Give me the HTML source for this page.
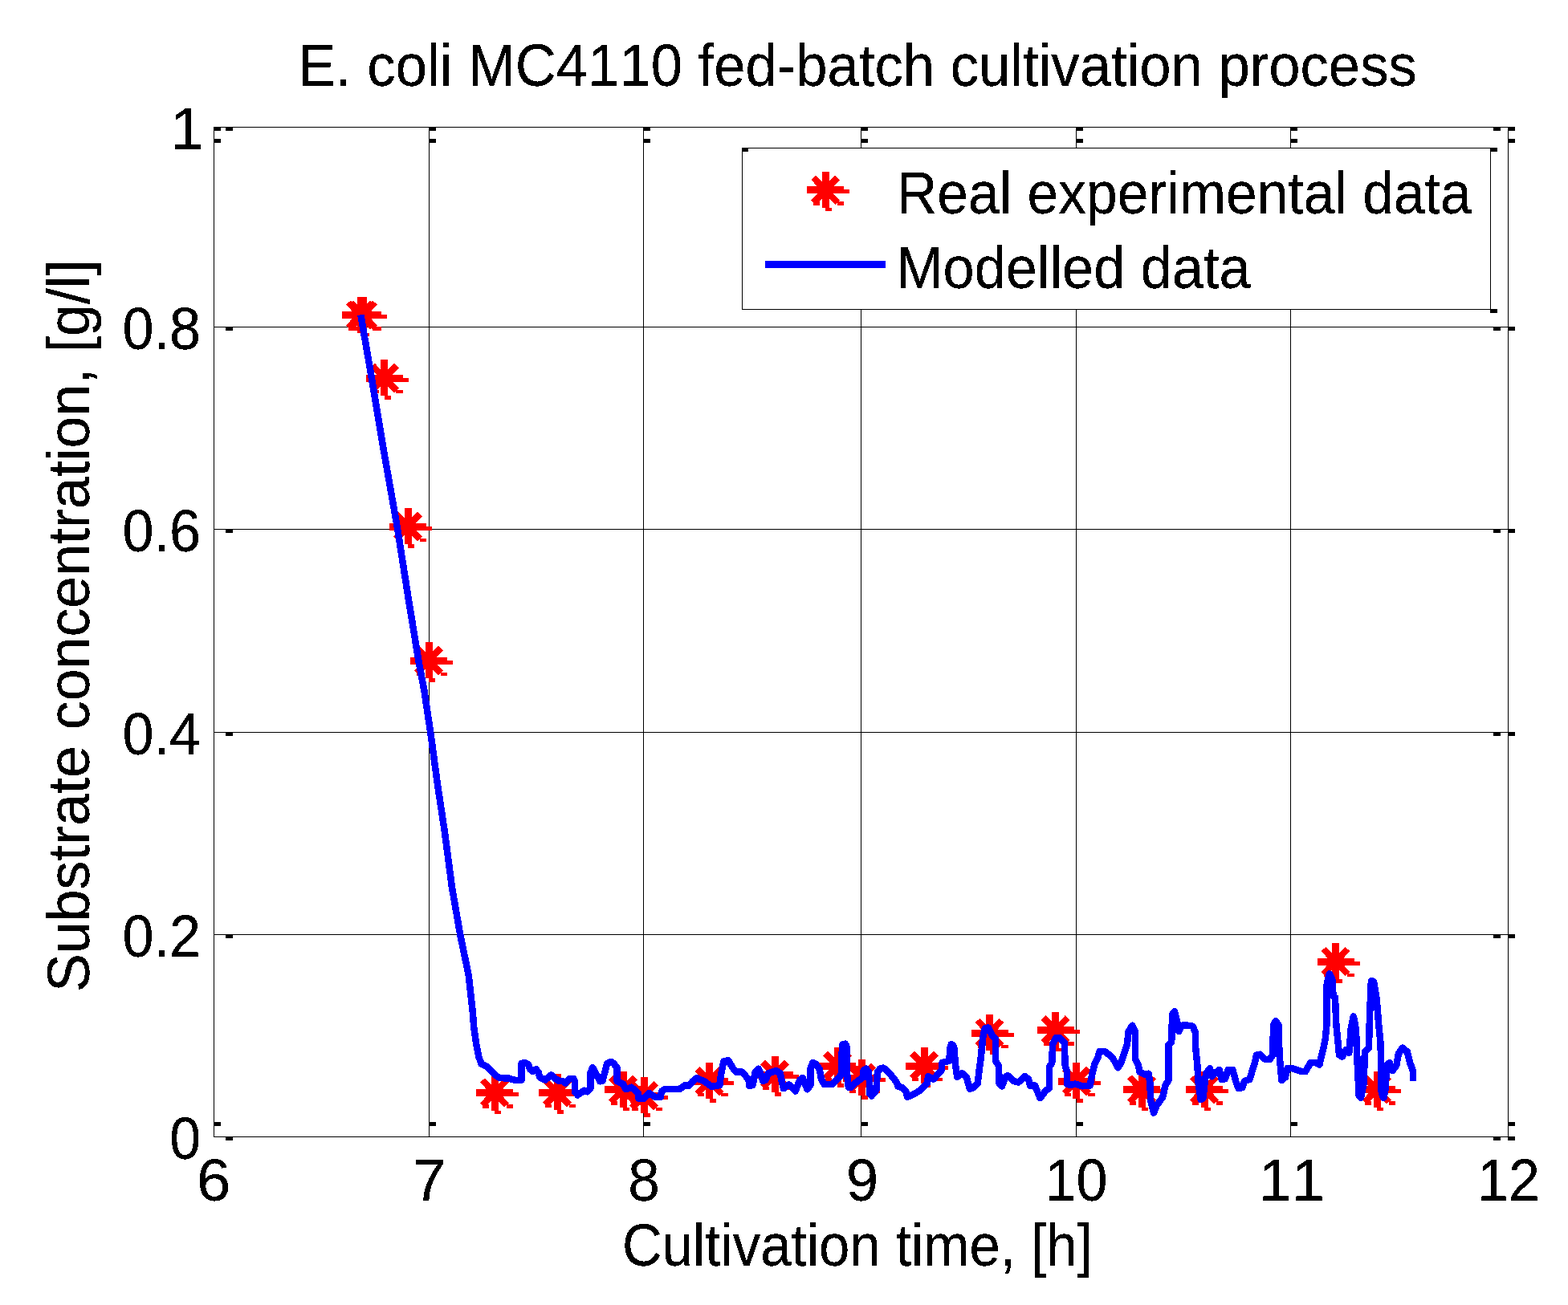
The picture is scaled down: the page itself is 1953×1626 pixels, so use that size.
<!DOCTYPE html><html><head><meta charset="utf-8"><title>E. coli MC4110 fed-batch cultivation process</title>
<style>html,body{margin:0;padding:0;background:#fff;overflow:hidden}svg{display:block}</style></head><body>
<svg width="1953" height="1626" viewBox="0 0 1953 1626" shape-rendering="crispEdges">
<defs><g id="mk" fill="#ff0000" shape-rendering="crispEdges"><rect x="-4.5" y="-23" width="9" height="45"/><rect x="-23" y="-4.5" width="46" height="9"/><rect x="23" y="-0.5" width="7" height="5"/><rect x="0" y="22" width="8" height="4.5"/><rect x="14.5" y="14.5" width="8.5" height="4.5"/><rect x="-15" y="14.5" width="8" height="4.5"/><path d="M-15,-15.5 L15,15.5 M15,-15.5 L-15,15.5" stroke="#ff0000" stroke-width="8.2" fill="none"/></g><filter id="bin" x="0" y="0" width="1" height="1" color-interpolation-filters="sRGB"><feComponentTransfer><feFuncA type="discrete" tableValues="0 1 1"/></feComponentTransfer></filter></defs>
<rect x="0" y="0" width="1953" height="1626" fill="#fff"/>
<g fill="#000"><rect x="534" y="158" width="1" height="1258"/><rect x="801" y="158" width="1" height="1258"/><rect x="1072" y="158" width="1" height="1258"/><rect x="1340" y="158" width="1" height="1258"/><rect x="1607" y="158" width="1" height="1258"/><rect x="266" y="407" width="1612" height="1"/><rect x="266" y="659" width="1612" height="1"/><rect x="266" y="912" width="1612" height="1"/><rect x="266" y="1164" width="1612" height="1"/></g>
<g fill="#000"><rect x="266" y="158" width="1613" height="1"/><rect x="266" y="1416" width="1613" height="1"/><rect x="266" y="158" width="1" height="1259"/><rect x="1878" y="158" width="1" height="1259"/></g>
<g fill="#000"><rect x="266" y="158" width="9" height="5"/><rect x="266" y="173" width="9" height="5"/><rect x="266" y="1398" width="9" height="5"/><rect x="534" y="158" width="9" height="5"/><rect x="534" y="173" width="9" height="5"/><rect x="534" y="1398" width="9" height="5"/><rect x="801" y="158" width="9" height="5"/><rect x="801" y="173" width="9" height="5"/><rect x="801" y="1398" width="9" height="5"/><rect x="1072" y="158" width="9" height="5"/><rect x="1072" y="173" width="9" height="5"/><rect x="1072" y="1398" width="9" height="5"/><rect x="1340" y="158" width="9" height="5"/><rect x="1340" y="173" width="9" height="5"/><rect x="1340" y="1398" width="9" height="5"/><rect x="1607" y="158" width="9" height="5"/><rect x="1607" y="173" width="9" height="5"/><rect x="1607" y="1398" width="9" height="5"/><rect x="1878" y="158" width="9" height="5"/><rect x="1878" y="173" width="9" height="5"/><rect x="1878" y="1398" width="9" height="5"/><rect x="281" y="158" width="9" height="5"/><rect x="1860" y="158" width="9" height="5"/><rect x="1878" y="158" width="9" height="5"/><rect x="281" y="407" width="9" height="5"/><rect x="1860" y="407" width="9" height="5"/><rect x="1878" y="407" width="9" height="5"/><rect x="281" y="659" width="9" height="5"/><rect x="1860" y="659" width="9" height="5"/><rect x="1878" y="659" width="9" height="5"/><rect x="281" y="912" width="9" height="5"/><rect x="1860" y="912" width="9" height="5"/><rect x="1878" y="912" width="9" height="5"/><rect x="281" y="1164" width="9" height="5"/><rect x="1860" y="1164" width="9" height="5"/><rect x="1878" y="1164" width="9" height="5"/><rect x="281" y="1416" width="9" height="5"/><rect x="1860" y="1416" width="9" height="5"/><rect x="1878" y="1416" width="9" height="5"/></g>
<g><use href="#mk" x="449" y="392.5"/><use href="#mk" x="452" y="392.5"/><use href="#mk" x="478.8" y="471"/><use href="#mk" x="508" y="656"/><use href="#mk" x="534" y="823"/><use href="#mk" x="616" y="1361.5"/><use href="#mk" x="694" y="1361.2"/><use href="#mk" x="776" y="1357.8"/><use href="#mk" x="802" y="1365.3"/><use href="#mk" x="883.5" y="1347.2"/><use href="#mk" x="965" y="1339"/><use href="#mk" x="1043" y="1328"/><use href="#mk" x="1073" y="1343"/><use href="#mk" x="1151" y="1328"/><use href="#mk" x="1232.5" y="1287"/><use href="#mk" x="1314.7" y="1283.6"/><use href="#mk" x="1340.7" y="1347"/><use href="#mk" x="1422" y="1357.5"/><use href="#mk" x="1500" y="1357.5"/><use href="#mk" x="1663.5" y="1198"/><use href="#mk" x="1715" y="1357.5"/></g>
<path d="M449.3,392.3 L463.1,472.3 L478.5,564.6 L494.8,657 L509.2,749 L521.5,824 L528.3,860 L536.3,913.2 L545.1,978.2 L554,1037.4 L562.9,1105.3 L573.2,1164.5 L583.6,1214.7 L588.6,1259 L590.2,1280 L593.1,1300.5 L596.4,1316.9 L599.7,1325.9 L607,1329.2 L616.9,1339.8 L622.6,1343.1 L633.3,1343.5 L642.3,1346 L649.6,1345.5 L649.6,1325 L653.7,1324.2 L657.8,1325.9 L660.3,1332.4 L663.6,1334.9 L667.7,1332.4 L670.9,1336.5 L672.2,1342.3 L679.1,1345.5 L686.5,1339.4 L694.7,1346.4 L701.3,1347.2 L704.5,1349.6 L709.4,1343.9 L714.4,1343.9 L716,1347.2 L716,1360.3 L719.3,1364.4 L727.5,1358.7 L731.6,1360.3 L735.7,1355.4 L735.3,1337.3 L738.2,1330.1 L743.1,1339.2 L747.2,1347.3 L750.5,1346.5 L756.2,1325.2 L761.1,1322.8 L764.4,1325.2 L768.5,1330.1 L768.5,1347.3 L775.9,1350.6 L779.2,1357.2 L786.5,1354.7 L794.7,1362.1 L795.5,1368.6 L802.1,1368.6 L808.7,1362.1 L816,1367 L822.6,1367 L824.2,1359.6 L828.3,1357.2 L846.3,1357.2 L852.9,1352.3 L857.8,1353.1 L862.7,1347.3 L867.6,1343.3 L877.5,1347.3 L886,1353.8 L896.4,1352.1 L898,1339 L901.3,1322.6 L907,1321 L912.8,1330.8 L916.9,1335.7 L924.2,1335.7 L932.4,1344.7 L933.3,1352.9 L937.3,1352.1 L939,1345.5 L940.6,1335.7 L944.7,1331.6 L947.2,1337.3 L950.5,1347.2 L953.7,1345.5 L957,1337.3 L966.8,1334.1 L971.8,1337.3 L973.4,1345.5 L975.9,1356.2 L982.4,1351.3 L990.6,1359.5 L996.3,1345.5 L999.6,1343 L1005.5,1357.3 L1009.5,1352 L1009.5,1331 L1012.4,1323.8 L1016.3,1326.1 L1020.8,1332.3 L1023,1345 L1026.5,1350.8 L1036.6,1350.8 L1042.8,1344.6 L1047.9,1339 L1048.5,1312.5 L1049.6,1301.3 L1053,1300.7 L1054.6,1304.6 L1054.6,1329.4 L1055.8,1346.3 L1056.9,1354.8 L1059.7,1354.8 L1067.6,1347.5 L1074.9,1342.4 L1075.5,1333.9 L1078.9,1331.7 L1081.7,1335.1 L1082.8,1346.3 L1083.4,1363.2 L1085.6,1365.5 L1091.3,1358.7 L1093,1335.1 L1096.9,1331.1 L1100.3,1330.6 L1105.4,1334.5 L1111.9,1342.1 L1116.8,1348.6 L1118.5,1353.6 L1124.2,1355.2 L1128.3,1360.1 L1130,1366.7 L1136.5,1364.2 L1146.3,1358.5 L1154.5,1350.3 L1156.2,1341.3 L1162.7,1344.6 L1172.6,1333.9 L1173.4,1324.1 L1182.4,1321.6 L1183.2,1306.9 L1184.8,1301.1 L1187.3,1302.8 L1188.5,1306 L1189.8,1325.5 L1192.3,1341.9 L1198,1337 L1203.8,1341.9 L1207.9,1356.7 L1212.8,1355 L1217.7,1350.1 L1219.3,1336.2 L1221.8,1317.3 L1224.2,1292.8 L1226.7,1281.3 L1230.8,1280.5 L1235.7,1290.3 L1239.8,1294.4 L1239.8,1321.4 L1243.9,1328 L1244.7,1350.1 L1248,1353.4 L1252.1,1341.9 L1255.4,1340.3 L1261.9,1346.8 L1268.5,1348.5 L1276.7,1341.1 L1280.8,1344.4 L1283.2,1352.6 L1289,1352.6 L1293.1,1362.4 L1295.5,1368.1 L1302.9,1358.3 L1307,1355.9 L1307,1329.6 L1310.3,1323.9 L1311.1,1301 L1315.2,1292.8 L1319.3,1292.8 L1325.8,1299.3 L1326.6,1327.2 L1329.1,1335.4 L1329.1,1351 L1334,1351.8 L1339.2,1350.6 L1348.5,1353.3 L1357.7,1352.4 L1360.4,1337.7 L1363.2,1326.6 L1366.9,1319.2 L1369.7,1310 L1376.1,1310 L1385.4,1317.4 L1392.7,1330.3 L1396.4,1323.8 L1400.1,1312.7 L1403.8,1301.7 L1405.7,1285.1 L1410.3,1277.7 L1414,1285.1 L1414,1319.2 L1417.7,1326.6 L1419.5,1335.8 L1426,1338.6 L1430.6,1337.7 L1432.4,1349.7 L1433.3,1371.8 L1437,1386.6 L1440.7,1377.3 L1448.1,1367.2 L1451.8,1351.5 L1455.5,1346 L1455.5,1301.7 L1459.2,1298 L1460.1,1263.8 L1462.9,1260.2 L1466.6,1274.9 L1468.4,1285.1 L1472.1,1277.7 L1479.5,1277.7 L1485.5,1278.6 L1489.2,1286.9 L1489.2,1305.4 L1491.1,1323.8 L1492.9,1351.5 L1495.7,1370 L1498.5,1368.1 L1500.3,1351.5 L1502.1,1337.7 L1506.8,1331.2 L1509.5,1341.3 L1515.1,1335.8 L1518.8,1333 L1521.5,1345 L1526.1,1344.1 L1529.8,1333 L1535.4,1333 L1539.1,1346.9 L1542.7,1356.1 L1547.4,1355.2 L1550.1,1346.9 L1556.6,1345 L1559.4,1334.9 L1563,1323.8 L1564.9,1314.6 L1569.5,1313.7 L1576,1320.1 L1581.5,1320.1 L1585.2,1314.6 L1586.1,1277.7 L1588.9,1272.1 L1592.6,1277.7 L1593.5,1314.6 L1595.3,1333 L1596.3,1346 L1600.9,1342.3 L1603.6,1331.2 L1609.2,1331.2 L1615.6,1333 L1620.3,1334.9 L1626.1,1335.1 L1632.3,1324.1 L1638.4,1324.1 L1643.4,1326.5 L1645.8,1316.7 L1648.3,1306.8 L1650.7,1294.5 L1652.6,1276.1 L1652.6,1226.9 L1655.7,1213.4 L1659.4,1220.7 L1660.6,1241.7 L1663,1242.9 L1664.3,1276.1 L1666.7,1300.7 L1668,1314.2 L1671.7,1316.7 L1676.6,1308.1 L1680.3,1311.8 L1682.7,1282.2 L1685.8,1266.3 L1688.9,1282.2 L1690.1,1313 L1692.6,1364.6 L1695,1368 L1698.7,1349.9 L1699.9,1310.5 L1704.9,1305.6 L1706.1,1263.8 L1707.9,1222 L1711,1223.2 L1714.7,1245.3 L1717.2,1276.1 L1719.6,1300.7 L1720.8,1362.2 L1723.3,1368 L1725.8,1356 L1727,1327.7 L1730.7,1324.1 L1734.4,1333.9 L1739.3,1327.7 L1741.8,1313 L1746.7,1305.6 L1752.8,1310.5 L1756.5,1325.3 L1758.8,1331 L1759.8,1334 L1759.8,1346.5" fill="none" stroke="#0000ff" stroke-width="8.5" stroke-linejoin="round" stroke-linecap="butt" shape-rendering="crispEdges"/>
<rect x="924.5" y="184.5" width="932" height="201" fill="#fff" stroke="#000" stroke-width="1"/>
<g fill="#000"><rect x="924" y="184" width="8" height="5"/><rect x="1856" y="184" width="9" height="5"/><rect x="1856" y="385" width="9" height="5"/></g>
<use href="#mk" x="1028.2" y="236.8"/>
<rect x="953" y="325" width="150" height="8.6" fill="#0000ff"/>
<g font-family="'Liberation Sans', Arial, Helvetica, sans-serif" font-size="74" fill="#000" filter="url(#bin)" style="font-kerning:none;font-feature-settings:'kern' 0">
<text x="371" y="107" textLength="1393.80" lengthAdjust="spacingAndGlyphs">E. coli MC4110 fed-batch cultivation process</text>
<text x="1117" y="266" textLength="715.64" lengthAdjust="spacingAndGlyphs">Real experimental data</text>
<text x="1116" y="359" textLength="441.60" lengthAdjust="spacingAndGlyphs">Modelled data</text>
<text x="775" y="1577" textLength="585.62" lengthAdjust="spacingAndGlyphs">Cultivation time, [h]</text>
<text transform="translate(111,1236) rotate(-90)" x="0" y="0" textLength="912.69" lengthAdjust="spacingAndGlyphs">Substrate concentration, [g/l]</text>
<text x="253.5" y="185.7" text-anchor="end">1</text>
<text x="250" y="434.7" text-anchor="end" textLength="97.6" lengthAdjust="spacingAndGlyphs">0.8</text>
<text x="250" y="686.7" text-anchor="end" textLength="97.6" lengthAdjust="spacingAndGlyphs">0.6</text>
<text x="250" y="939.7" text-anchor="end" textLength="97.6" lengthAdjust="spacingAndGlyphs">0.4</text>
<text x="250" y="1191.7" text-anchor="end" textLength="97.6" lengthAdjust="spacingAndGlyphs">0.2</text>
<text x="250" y="1443.7" text-anchor="end" textLength="38.8" lengthAdjust="spacingAndGlyphs">0</text>
<text x="266.3" y="1495.5" text-anchor="middle" textLength="42.38" lengthAdjust="spacingAndGlyphs">6</text>
<text x="534.8" y="1495.5" text-anchor="middle" textLength="41.18" lengthAdjust="spacingAndGlyphs">7</text>
<text x="802.0" y="1495.5" text-anchor="middle" textLength="39.48" lengthAdjust="spacingAndGlyphs">8</text>
<text x="1074.0" y="1495.5" text-anchor="middle" textLength="40.02" lengthAdjust="spacingAndGlyphs">9</text>
<text x="1340.4" y="1495.5" text-anchor="middle" textLength="77.87" lengthAdjust="spacingAndGlyphs">10</text>
<text x="1609" y="1495.5" text-anchor="middle">11</text>
<text x="1878.9" y="1495.5" text-anchor="middle" textLength="77.81" lengthAdjust="spacingAndGlyphs">12</text>
</g>
</svg></body></html>
